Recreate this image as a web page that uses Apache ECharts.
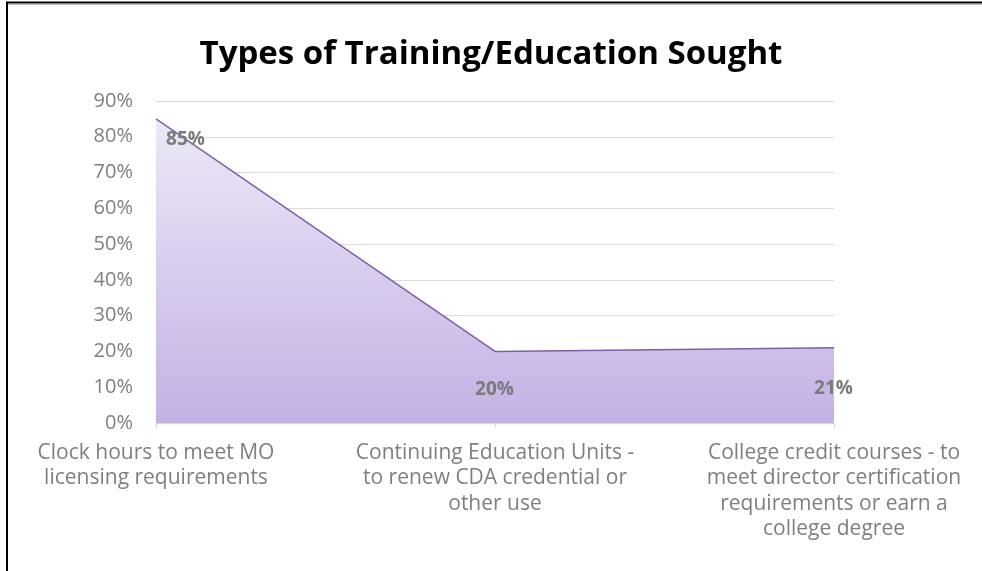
<!DOCTYPE html>
<html>
<head>
<meta charset="utf-8">
<script src="https://cdn.jsdelivr.net/npm/echarts@6/dist/echarts.min.js"></script>
<style>
html,body{margin:0;padding:0;background:#fff;}
#chart{width:982px;height:571px;}
</style>
</head>
<body>
<div id="chart"></div>
<script>
const titleText = 'Types of Training/Education Sought';
const categories = [
  'Clock hours to meet MO\nlicensing requirements',
  'Continuing Education Units -\nto renew CDA credential or\nother use',
  'College credit courses - to\nmeet director certification\nrequirements or earn a\ncollege degree'
];
const values = [85, 20, 21];
const yTicks = [0, 10, 20, 30, 40, 50, 60, 70, 80, 90];

const labelOffsets = [[30, 21], [0, 39], [0, 41]];

const chart = echarts.init(document.getElementById('chart'));
const font = '"Open Sans", Lato, sans-serif';
chart.setOption({
  animation: false,
  backgroundColor: '#fff',
  title: {
    text: titleText,
    left: 'center',
    top: 33,
    textStyle: { fontFamily: font, fontWeight: 'bold', fontSize: 33, color: '#000' }
  },
  graphic: [
    { type: 'line', shape: { x1: 7, y1: 2.5, x2: 982, y2: 2.5 }, style: { stroke: '#000', lineWidth: 2 } },
    { type: 'line', shape: { x1: 8, y1: 4.5, x2: 982, y2: 4.5 }, style: { stroke: '#bbb', lineWidth: 1 } },
    { type: 'line', shape: { x1: 7, y1: 1.5, x2: 7, y2: 571 }, style: { stroke: '#000', lineWidth: 2 } }
  ],
  grid: { left: 156, right: 148, top: 101, bottom: 148, containLabel: false },
  xAxis: {
    type: 'category',
    data: categories,
    boundaryGap: false,
    axisLine: { lineStyle: { color: '#d9d9d9', width: 1 } },
    axisTick: { show: true, alignWithLabel: true, length: 5, lineStyle: { color: '#d9d9d9' } },
    axisLabel: {
      color: '#7f7f7f', fontFamily: font, fontSize: 21, lineHeight: 25.5, margin: 17,
      interval: 0, align: 'center'
    }
  },
  yAxis: {
    type: 'value',
    min: yTicks[0],
    max: yTicks[yTicks.length - 1],
    interval: 10,
    axisLine: { show: false },
    axisTick: { show: false },
    splitLine: { lineStyle: { color: '#d9d9d9', width: 1 } },
    axisLabel: { color: '#7f7f7f', fontFamily: font, fontSize: 20, margin: 23, formatter: '{value}%' }
  },
  series: [{
    type: 'line',
    data: values.map((v, i) => ({
      value: v,
      label: { position: labelOffsets[i], align: 'center', verticalAlign: 'middle' }
    })),
    symbol: 'circle',
    symbolSize: 1,
    showSymbol: true,
    itemStyle: { color: 'rgba(0,0,0,0)', borderWidth: 0 },
    lineStyle: { color: '#7b62a3', width: 1.5 },
    areaStyle: {
      color: new echarts.graphic.LinearGradient(0, 0, 0, 1, [
        { offset: 0, color: '#ede8f7' },
        { offset: 1, color: '#c4b1e5' }
      ]),
      opacity: 1
    },
    label: {
      show: true,
      formatter: '{c}%',
      color: '#7a7a7a',
      fontFamily: font,
      fontWeight: 'bold',
      fontSize: 19
    },
    labelLayout: { hideOverlap: false },
    z: 2
  }]
});
</script>
</body>
</html>
